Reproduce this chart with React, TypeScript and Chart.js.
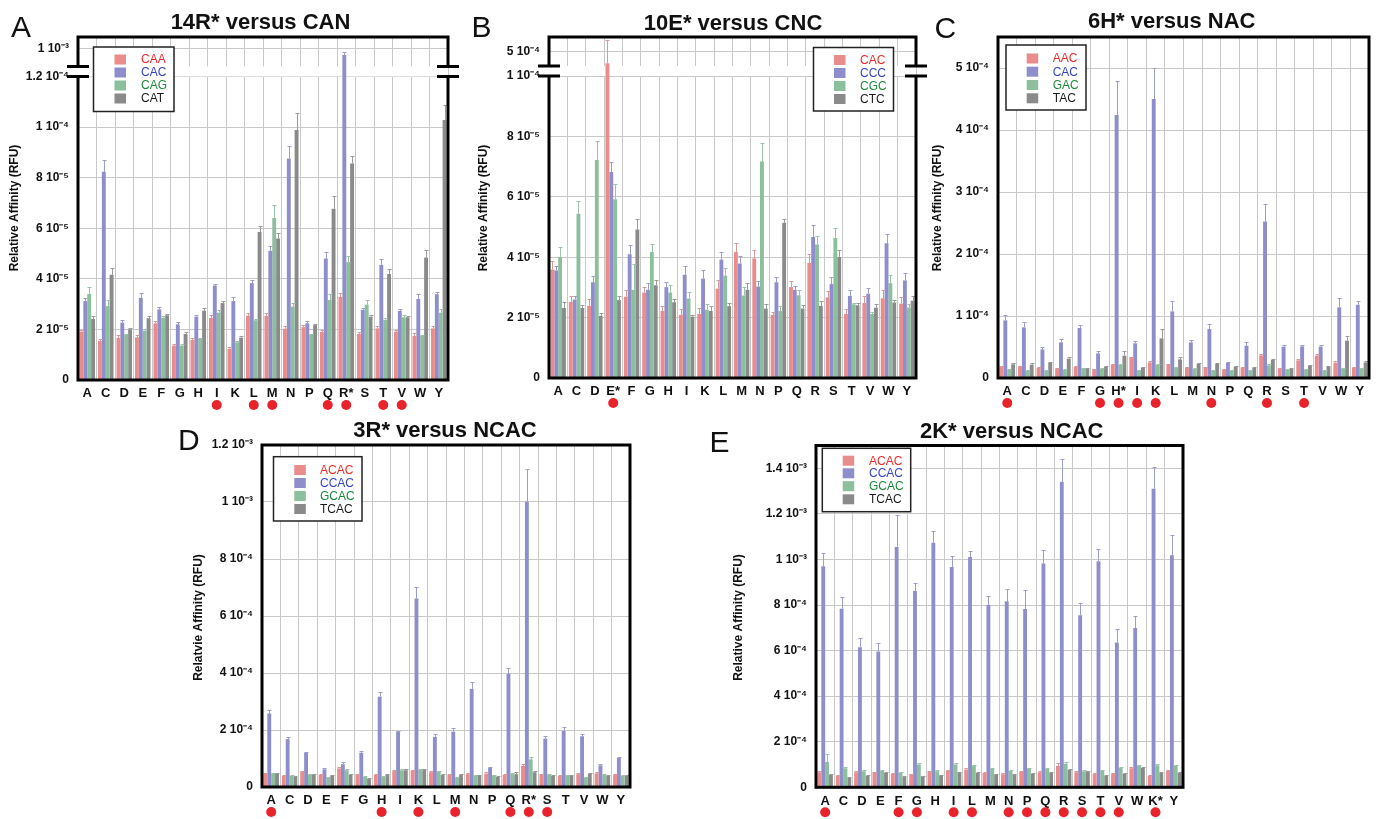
import React, { useEffect, useRef } from 'react';
import { Chart, registerables, LinearScale } from 'chart.js';

Chart.register(...registerables);

// Linear scale with an axis break: values up to breakValue fill the lower breakFrac of the axis,
// values above are compressed into the remaining top part.
class BrokenLinearScale extends LinearScale {
  static id = 'brokenLinear';
  static defaults = {};
  getPixelForValue(value: number) {
    const o: any = this.options;
    const bv = o.breakValue;
    const bf = o.breakFrac;
    if (bv == null || value == null || isNaN(value)) return super.getPixelForValue(value);
    const max = (this as any).max;
    let f: number;
    if (value <= bv) f = (value / bv) * bf;
    else f = bf + ((value - bv) / (max - bv)) * (1 - bf);
    return this.getPixelForDecimal(f);
  }
}
Chart.register(BrokenLinearScale as any);

// ---------------- DATA (all values in units of 1e-5 RFU) ----------------
// Panel A: 14R* versus CAN
const A_labels = ['A', 'C', 'D', 'E', 'F', 'G', 'H', 'I', 'K', 'L', 'M', 'N', 'P', 'Q', 'R*', 'S', 'T', 'V', 'W', 'Y'];
const A_CAA = [1.91, 1.54, 1.67, 1.69, 2.24, 1.36, 1.58, 2.45, 1.23, 2.54, 2.54, 2.03, 2.09, 1.90, 3.28, 1.82, 2.04, 1.91, 1.74, 2.04];
const A_CAC = [3.12, 8.23, 2.27, 3.25, 2.79, 2.20, 2.50, 3.73, 3.12, 3.83, 5.11, 8.76, 2.24, 4.80, 79.0, 2.77, 4.55, 2.73, 3.20, 3.39];
const A_CAG = [3.40, 2.92, 1.78, 1.95, 2.46, 1.36, 1.62, 2.66, 1.49, 2.36, 6.40, 2.90, 1.78, 3.16, 4.66, 2.98, 2.37, 2.48, 1.74, 2.66];
const A_CAT = [2.41, 4.16, 2.00, 2.44, 2.56, 1.82, 2.74, 3.04, 1.67, 5.85, 5.59, 9.88, 2.17, 6.77, 8.56, 2.50, 4.19, 2.48, 4.84, 10.28];
const A_CAA_err = [0.07, 0.10, 0.10, 0.10, 0.10, 0.08, 0.08, 0.12, 0.06, 0.12, 0.12, 0.10, 0.10, 0.06, 0.17, 0.06, 0.10, 0.06, 0.10, 0.10];
const A_CAC_err = [0.13, 0.47, 0.10, 0.20, 0.08, 0.08, 0.06, 0.08, 0.17, 0.12, 0.20, 0.49, 0.08, 0.24, 10.4, 0.06, 0.22, 0.06, 0.20, 0.10];
const A_CAG_err = [0.26, 0.24, 0.05, 0.05, 0.05, 0.05, 0.05, 0.10, 0.05, 0.05, 0.52, 0.13, 0.05, 0.25, 0.24, 0.20, 0.10, 0.08, 0.05, 0.15];
const A_CAT_err = [0.10, 0.25, 0.06, 0.08, 0.06, 0.06, 0.10, 0.07, 0.08, 0.24, 0.24, 0.66, 0.06, 0.50, 0.29, 0.06, 0.18, 0.06, 0.28, 0.59];
const A_marked = ['I', 'L', 'M', 'Q', 'R*', 'T', 'V'];
const A_ticks = [0, 2, 4, 6, 8, 10, 12, 100];
const A_tickLabels = ['0', '2 10⁻⁵', '4 10⁻⁵', '6 10⁻⁵', '8 10⁻⁵', '1 10⁻⁴', '1.2 10⁻⁴', '1 10⁻³'];

// Panel B: 10E* versus CNC
const B_labels = ['A', 'C', 'D', 'E*', 'F', 'G', 'H', 'I', 'K', 'L', 'M', 'N', 'P', 'Q', 'R', 'S', 'T', 'V', 'W', 'Y'];
const B_CAC = [3.59, 2.52, 2.39, 30.9, 2.69, 2.83, 2.22, 2.09, 2.12, 2.96, 4.17, 3.96, 2.09, 3.01, 3.81, 2.67, 2.12, 2.48, 2.64, 2.46];
const B_CCC = [3.56, 2.60, 3.17, 6.82, 4.10, 2.92, 3.01, 3.42, 3.29, 3.92, 3.79, 3.03, 3.17, 2.92, 4.67, 3.11, 2.72, 2.79, 4.46, 3.23];
const B_CGC = [4.01, 5.44, 7.22, 5.92, 2.92, 4.17, 2.83, 2.63, 2.26, 3.39, 2.73, 7.17, 2.22, 2.74, 4.42, 4.64, 2.44, 2.12, 3.14, 2.33];
const B_CTC = [2.32, 2.32, 2.06, 2.58, 4.92, 3.07, 2.51, 2.03, 2.22, 2.38, 2.92, 2.30, 5.14, 2.30, 2.39, 4.01, 2.41, 2.33, 2.50, 2.56];
const B_CAC_err = [0.28, 0.18, 0.22, 38.4, 0.23, 0.18, 0.17, 0.19, 0.20, 0.27, 0.31, 0.27, 0.11, 0.19, 0.30, 0.20, 0.16, 0.22, 0.28, 0.22];
const B_CCC_err = [0.14, 0.10, 0.20, 0.34, 0.32, 0.22, 0.16, 0.30, 0.27, 0.26, 0.24, 0.17, 0.18, 0.11, 0.39, 0.23, 0.20, 0.19, 0.30, 0.24];
const B_CGC_err = [0.33, 0.42, 0.64, 0.50, 0.87, 0.28, 0.26, 0.22, 0.20, 0.24, 0.28, 0.61, 0.17, 0.18, 0.28, 0.33, 0.06, 0.08, 0.27, 0.12];
const B_CTC_err = [0.20, 0.10, 0.09, 0.12, 0.33, 0.16, 0.10, 0.06, 0.17, 0.10, 0.22, 0.14, 0.11, 0.12, 0.17, 0.24, 0.07, 0.12, 0.09, 0.17];
const B_marked = ['E*'];
const B_ticks = [0, 2, 4, 6, 8, 10, 50];
const B_tickLabels = ['0', '2 10⁻⁵', '4 10⁻⁵', '6 10⁻⁵', '8 10⁻⁵', '1 10⁻⁴', '5 10⁻⁴'];

// Panel C: 6H* versus NAC
const C_labels = ['A', 'C', 'D', 'E', 'F', 'G', 'H*', 'I', 'K', 'L', 'M', 'N', 'P', 'Q', 'R', 'S', 'T', 'V', 'W', 'Y'];
const C_AAC = [1.83, 1.83, 1.66, 1.50, 1.77, 1.40, 2.15, 3.22, 2.52, 2.20, 1.72, 1.72, 1.34, 1.72, 3.65, 1.56, 2.85, 3.60, 2.47, 1.66];
const C_CAC = [9.29, 8.16, 4.62, 5.75, 8.06, 3.97, 42.4, 5.59, 45.0, 10.74, 5.75, 7.89, 2.42, 5.21, 25.24, 5.05, 5.10, 5.05, 11.39, 11.82];
const C_GAC = [1.34, 1.18, 1.18, 1.34, 1.56, 1.45, 2.15, 1.18, 2.10, 1.72, 1.45, 1.18, 1.18, 1.18, 2.04, 1.34, 1.34, 1.18, 1.50, 1.56];
const C_TAC = [2.20, 2.15, 2.42, 3.11, 1.56, 1.83, 3.60, 1.66, 6.39, 3.00, 2.31, 2.26, 1.83, 1.61, 2.90, 1.50, 2.04, 1.83, 6.02, 2.52];
const C_AAC_err = [0.10, 0.10, 0.10, 0.10, 0.10, 0.10, 0.10, 0.20, 0.20, 0.10, 0.10, 0.10, 0.10, 0.10, 0.30, 0.10, 0.20, 0.20, 0.20, 0.10];
const C_CAC_err = [0.90, 0.80, 0.43, 0.54, 0.54, 0.43, 5.50, 0.43, 5.00, 1.70, 0.43, 0.86, 0.10, 0.54, 2.80, 0.30, 0.30, 0.30, 1.50, 0.65];
const C_GAC_err = [0.10, 0.08, 0.08, 0.10, 0.10, 0.10, 0.12, 0.08, 0.12, 0.10, 0.10, 0.08, 0.08, 0.08, 0.15, 0.08, 0.08, 0.08, 0.10, 0.10];
const C_TAC_err = [0.20, 0.20, 0.10, 0.20, 0.10, 0.10, 0.80, 0.10, 1.55, 0.38, 0.10, 0.20, 0.10, 0.10, 0.20, 0.10, 0.10, 0.10, 0.80, 0.27];
const C_marked = ['A', 'G', 'H*', 'I', 'K', 'N', 'R', 'T'];
const C_ticks = [0, 10, 20, 30, 40, 50];
const C_tickLabels = ['0', '1 10⁻⁴', '2 10⁻⁴', '3 10⁻⁴', '4 10⁻⁴', '5 10⁻⁴'];

// Panel D: 3R* versus NCAC
const D_labels = ['A', 'C', 'D', 'E', 'F', 'G', 'H', 'I', 'K', 'L', 'M', 'N', 'P', 'Q', 'R*', 'S', 'T', 'V', 'W', 'Y'];
const D_ACAC = [4.7, 3.9, 5.3, 4.3, 6.5, 4.2, 4.2, 5.6, 5.8, 5.2, 4.2, 4.5, 4.7, 4.2, 7.4, 4.3, 3.9, 4.5, 4.8, 4.2];
const D_CCAC = [25.8, 16.8, 12.0, 6.2, 8.0, 12.0, 31.7, 19.4, 66.1, 17.6, 19.4, 34.4, 6.8, 39.7, 100.1, 17.0, 19.7, 17.8, 7.6, 10.2];
const D_GCAC = [4.7, 3.9, 4.3, 3.3, 5.9, 3.5, 3.8, 5.9, 6.0, 5.4, 3.4, 4.1, 4.1, 4.5, 9.7, 4.3, 4.1, 3.3, 4.2, 3.9];
const D_TCAC = [4.7, 3.5, 4.3, 4.1, 4.3, 2.9, 4.2, 5.9, 6.0, 4.2, 4.2, 4.1, 3.5, 4.5, 5.2, 3.9, 3.9, 4.6, 3.9, 3.9];
const D_ACAC_err = [0.3, 0.3, 0.3, 0.3, 0.5, 0.3, 0.3, 0.3, 0.3, 0.3, 0.3, 0.3, 0.5, 0.3, 0.6, 0.3, 0.3, 0.3, 0.3, 0.3];
const D_CCAC_err = [1.2, 0.6, 0.3, 0.3, 0.8, 0.6, 1.8, 0.3, 4.1, 0.9, 1.2, 2.3, 0.3, 2.1, 11.6, 0.8, 1.2, 0.9, 0.3, 0.3];
const D_GCAC_err = [0.3, 0.2, 0.2, 0.2, 0.4, 0.2, 0.2, 0.3, 0.3, 0.3, 0.2, 0.2, 0.2, 0.3, 0.8, 0.2, 0.2, 0.2, 0.2, 0.2];
const D_TCAC_err = [0.3, 0.2, 0.2, 0.2, 0.2, 0.2, 0.3, 0.5, 0.4, 0.2, 0.3, 0.2, 0.2, 0.7, 0.3, 0.2, 0.2, 0.3, 0.2, 0.2];
const D_marked = ['A', 'H', 'K', 'M', 'Q', 'R*', 'S'];
const D_ticks = [0, 20, 40, 60, 80, 100, 120];
const D_tickLabels = ['0', '2 10⁻⁴', '4 10⁻⁴', '6 10⁻⁴', '8 10⁻⁴', '1 10⁻³', '1.2 10⁻³'];

// Panel E: 2K* versus NCAC
const E_labels = ['A', 'C', 'D', 'E', 'F', 'G', 'H', 'I', 'L', 'M', 'N', 'P', 'Q', 'R', 'S', 'T', 'V', 'W', 'K*', 'Y'];
const E_ACAC = [6.6, 5.1, 6.6, 6.4, 6.0, 5.6, 6.7, 7.3, 7.8, 6.3, 5.7, 6.7, 6.6, 9.4, 6.6, 6.0, 6.0, 8.4, 5.0, 7.3];
const E_CCAC = [97.0, 78.4, 61.5, 59.6, 105.5, 86.2, 107.3, 96.7, 101.1, 80.1, 81.6, 78.2, 98.2, 134.1, 75.5, 99.2, 63.6, 69.9, 131.0, 101.8];
const E_GCAC = [11.1, 8.4, 7.0, 7.3, 6.4, 10.0, 7.0, 10.0, 9.5, 8.1, 7.2, 8.2, 8.1, 10.3, 7.0, 7.3, 8.5, 9.5, 9.7, 9.5];
const E_TCAC = [5.4, 4.2, 5.1, 6.3, 4.5, 4.8, 5.3, 6.6, 6.3, 5.7, 5.6, 6.0, 6.3, 7.6, 7.0, 5.0, 5.9, 8.5, 6.3, 6.4];
const E_ACAC_err = [0.7, 0.4, 0.4, 0.4, 0.4, 0.4, 0.4, 0.5, 0.5, 0.4, 0.4, 0.4, 0.4, 1.2, 0.4, 0.4, 0.4, 0.5, 0.4, 0.4];
const E_CCAC_err = [5.9, 5.0, 4.2, 3.7, 13.8, 3.5, 5.1, 4.7, 2.8, 3.7, 5.6, 8.2, 6.0, 9.8, 5.4, 5.4, 6.0, 5.1, 9.5, 8.8];
const E_GCAC_err = [3.4, 0.4, 0.4, 0.4, 0.4, 0.5, 0.4, 0.5, 0.5, 0.4, 0.4, 0.4, 0.4, 0.6, 0.4, 0.4, 0.4, 0.5, 0.6, 0.5];
const E_TCAC_err = [0.4, 0.3, 0.3, 0.3, 0.3, 0.3, 0.3, 0.3, 0.3, 0.3, 0.3, 0.3, 0.3, 0.5, 0.3, 0.3, 0.3, 0.3, 0.3, 0.3];
const E_marked = ['A', 'F', 'G', 'I', 'L', 'N', 'P', 'Q', 'R', 'S', 'T', 'V', 'K*'];
const E_ticks = [0, 20, 40, 60, 80, 100, 120, 140];
const E_tickLabels = ['0', '2 10⁻⁴', '4 10⁻⁴', '6 10⁻⁴', '8 10⁻⁴', '1 10⁻³', '1.2 10⁻³', '1.4 10⁻³'];

// ---------------- STYLE ----------------
const FONT = '"Liberation Sans", Arial, Helvetica, sans-serif';
const FILL = ['#e98c8b', '#8d8ecb', '#8cbf9b', '#8a8a8a'];
const TEXTC = ['#ec2b2b', '#3545c8', '#1e8a3c', '#1a1a1a'];
const ERRC = ['#d79a9a', '#9d9dc9', '#9cc2a8', '#9a9a9a'];
const GRID = '#c8c8c8';
const DOT = '#e8232b';
const BREAK_GAP = 10;

type Series = { name: string; data: number[]; err: number[] };
type PanelDef = {
  id: string; x: number; y: number; w: number; h: number;
  area: { l: number; t: number; r: number; b: number };
  letter: string; letterX: number; letterY: number;
  title: string; titleX: number; titleY: number;
  yTitle: string; yTitleX: number; yTitleY: number;
  labels: string[]; series: Series[];
  ticks: number[]; tickLabels: string[]; max: number;
  breakValue?: number; breakFrac?: number;
  legend: { x: number; y: number; w: number; h: number; sqX: number; txtX: number; rows: number[] };
  marked: string[];
};

const panels: PanelDef[] = [
  {
    id: 'A', x: 0, y: 0, w: 460, h: 415, area: { l: 78, t: 37, r: 448, b: 380 },
    letter: 'A', letterX: 11, letterY: 36.5, title: '14R* versus CAN', titleX: 260.5, titleY: 28.5,
    yTitle: 'Relative Affinity (RFU)', yTitleX: 15, yTitleY: 208,
    labels: A_labels,
    series: [
      { name: 'CAA', data: A_CAA, err: A_CAA_err },
      { name: 'CAC', data: A_CAC, err: A_CAC_err },
      { name: 'CAG', data: A_CAG, err: A_CAG_err },
      { name: 'CAT', data: A_CAT, err: A_CAT_err },
    ],
    ticks: A_ticks, tickLabels: A_tickLabels, max: 135.5, breakValue: 12, breakFrac: 0.8851,
    legend: { x: 93.5, y: 47, w: 80.5, h: 64.5, sqX: 114.5, txtX: 141, rows: [59.5, 72.5, 85.5, 98.5] },
    marked: A_marked,
  },
  {
    id: 'B', x: 460, y: 0, w: 480, h: 415, area: { l: 89, t: 37, r: 456, b: 378 },
    letter: 'B', letterX: 11.5, letterY: 36.5, title: '10E* versus CNC', titleX: 273, titleY: 30,
    yTitle: 'Relative Affinity (RFU)', yTitleX: 23.3, yTitleY: 208,
    labels: B_labels,
    series: [
      { name: 'CAC', data: B_CAC, err: B_CAC_err },
      { name: 'CCC', data: B_CCC, err: B_CCC_err },
      { name: 'CGC', data: B_CGC, err: B_CGC_err },
      { name: 'CTC', data: B_CTC, err: B_CTC_err },
    ],
    ticks: B_ticks, tickLabels: B_tickLabels, max: 74.2, breakValue: 10, breakFrac: 0.8856,
    legend: { x: 353.5, y: 47.5, w: 80, h: 63.5, sqX: 374, txtX: 400, rows: [60, 73, 86, 99] },
    marked: B_marked,
  },
  {
    id: 'C', x: 920, y: 0, w: 458, h: 415, area: { l: 78, t: 37, r: 449, b: 378 },
    letter: 'C', letterX: 14.5, letterY: 37.5, title: '6H* versus NAC', titleX: 251.7, titleY: 27.5,
    yTitle: 'Relative Affinity (RFU)', yTitleX: 17.3, yTitleY: 208,
    labels: C_labels,
    series: [
      { name: 'AAC', data: C_AAC, err: C_AAC_err },
      { name: 'CAC', data: C_CAC, err: C_CAC_err },
      { name: 'GAC', data: C_GAC, err: C_GAC_err },
      { name: 'TAC', data: C_TAC, err: C_TAC_err },
    ],
    ticks: C_ticks, tickLabels: C_tickLabels, max: 55,
    legend: { x: 86, y: 45, w: 80, h: 65, sqX: 106.7, txtX: 132.7, rows: [58.5, 71.7, 85, 98.3] },
    marked: C_marked,
  },
  {
    id: 'D', x: 180, y: 410, w: 500, h: 409, area: { l: 82, t: 35, r: 450, b: 377 },
    letter: 'D', letterX: -2, letterY: 40, title: '3R* versus NCAC', titleX: 265, titleY: 26.7,
    yTitle: 'Relatvie Affinity (RFU)', yTitleX: 18.3, yTitleY: 207.5,
    labels: D_labels,
    series: [
      { name: 'ACAC', data: D_ACAC, err: D_ACAC_err },
      { name: 'CCAC', data: D_CCAC, err: D_CCAC_err },
      { name: 'GCAC', data: D_GCAC, err: D_GCAC_err },
      { name: 'TCAC', data: D_TCAC, err: D_TCAC_err },
    ],
    ticks: D_ticks, tickLabels: D_tickLabels, max: 120,
    legend: { x: 93.5, y: 46.7, w: 88.5, h: 64.3, sqX: 114.3, txtX: 140, rows: [60, 73, 86, 99] },
    marked: D_marked,
  },
  {
    id: 'E', x: 690, y: 410, w: 520, h: 409, area: { l: 126, t: 35.5, r: 493, b: 377.3 },
    letter: 'E', letterX: 19.5, letterY: 41.7, title: '2K* versus NCAC', titleX: 321.7, titleY: 28.3,
    yTitle: 'Relative Affinity (RFU)', yTitleX: 49, yTitleY: 207.5,
    labels: E_labels,
    series: [
      { name: 'ACAC', data: E_ACAC, err: E_ACAC_err },
      { name: 'CCAC', data: E_CCAC, err: E_CCAC_err },
      { name: 'GCAC', data: E_GCAC, err: E_GCAC_err },
      { name: 'TCAC', data: E_TCAC, err: E_TCAC_err },
    ],
    ticks: E_ticks, tickLabels: E_tickLabels, max: 150,
    legend: { x: 132.3, y: 38.3, w: 88.4, h: 63.4, sqX: 152.7, txtX: 179, rows: [50.7, 63.3, 76.2, 89.3] },
    marked: E_marked,
  },
];

function makeDecor(p: PanelDef) {
  return {
    id: 'decor' + p.id,
    beforeDatasetsDraw(chart: any) {
      if (p.breakValue == null) return;
      const { ctx, chartArea: a } = chart;
      const yb = chart.scales.y.getPixelForValue(p.breakValue);
      ctx.save();
      ctx.fillStyle = '#ffffff';
      ctx.fillRect(a.left, yb - BREAK_GAP, a.right - a.left, BREAK_GAP);
      ctx.restore();
    },
    afterDatasetsDraw(chart: any) {
      const { ctx } = chart;
      const ys = chart.scales.y;
      ctx.save();
      ctx.lineWidth = 1;
      p.series.forEach((s, i) => {
        const meta = chart.getDatasetMeta(i);
        ctx.strokeStyle = ERRC[i];
        meta.data.forEach((el: any, j: number) => {
          const e = s.err[j];
          if (!e) return;
          const yTop = Math.round(ys.getPixelForValue(s.data[j] + e)) + 0.5;
          const x = Math.round(el.x) + 0.5;
          ctx.beginPath();
          ctx.moveTo(x, el.y);
          ctx.lineTo(x, yTop);
          ctx.moveTo(x - 2, yTop);
          ctx.lineTo(x + 2, yTop);
          ctx.stroke();
        });
      });
      ctx.restore();
    },
    afterDraw(chart: any) {
      const { ctx, chartArea: a } = chart;
      const ys = chart.scales.y;
      const xs = chart.scales.x;
      ctx.save();
      // frame
      ctx.strokeStyle = '#000';
      ctx.lineWidth = 3;
      ctx.lineJoin = 'miter';
      if (p.breakValue != null) {
        const y1 = ys.getPixelForValue(p.breakValue);
        const y0 = y1 - BREAK_GAP;
        ctx.beginPath();
        ctx.moveTo(a.left, y0); ctx.lineTo(a.left, a.top); ctx.lineTo(a.right, a.top); ctx.lineTo(a.right, y0);
        ctx.moveTo(a.left, y1); ctx.lineTo(a.left, a.bottom); ctx.lineTo(a.right, a.bottom); ctx.lineTo(a.right, y1);
        ctx.stroke();
        ctx.beginPath();
        for (const x of [a.left, a.right]) {
          for (const y of [y0, y1]) {
            ctx.moveTo(x - 11, y);
            ctx.lineTo(x + 11, y);
          }
        }
        ctx.stroke();
      } else {
        ctx.strokeRect(a.left, a.top, a.right - a.left, a.bottom - a.top);
      }
      // legend
      const L = p.legend;
      ctx.fillStyle = '#fff';
      ctx.fillRect(L.x, L.y, L.w, L.h);
      ctx.lineWidth = 1.5;
      ctx.strokeStyle = '#222';
      ctx.strokeRect(L.x, L.y, L.w, L.h);
      ctx.font = '12px ' + FONT;
      ctx.textAlign = 'left';
      ctx.textBaseline = 'middle';
      p.series.forEach((s, i) => {
        const cy = L.rows[i];
        ctx.fillStyle = FILL[i];
        ctx.fillRect(L.sqX, cy - 5, 11.5, 10);
        ctx.fillStyle = TEXTC[i];
        ctx.fillText(s.name, L.txtX, cy + 0.5);
      });
      // red dots under marked residues
      ctx.fillStyle = DOT;
      p.marked.forEach((lbl) => {
        const idx = p.labels.indexOf(lbl);
        if (idx < 0) return;
        const x = xs.getPixelForValue(idx);
        ctx.beginPath();
        ctx.arc(x, a.bottom + 25, 5, 0, Math.PI * 2);
        ctx.fill();
      });
      // title
      ctx.fillStyle = '#111';
      ctx.font = 'bold 22px ' + FONT;
      ctx.textAlign = 'center';
      ctx.textBaseline = 'alphabetic';
      ctx.fillText(p.title, p.titleX, p.titleY);
      // panel letter
      ctx.font = '30px ' + FONT;
      ctx.textAlign = 'left';
      ctx.fillText(p.letter, p.letterX, p.letterY);
      // y axis title
      ctx.translate(p.yTitleX, p.yTitleY);
      ctx.rotate(-Math.PI / 2);
      ctx.font = 'bold 12px ' + FONT;
      ctx.textAlign = 'center';
      ctx.textBaseline = 'middle';
      ctx.fillText(p.yTitle, 0, 0);
      ctx.restore();
    },
  };
}

function Panel({ p }: { p: PanelDef }) {
  const ref = useRef<HTMLCanvasElement>(null);
  useEffect(() => {
    const canvas = ref.current!;
    const chart = new Chart(canvas, {
      type: 'bar',
      data: {
        labels: p.labels,
        datasets: p.series.map((s, i) => ({
          label: s.name,
          data: s.data,
          backgroundColor: FILL[i],
          borderWidth: 0,
          categoryPercentage: 0.84,
          barPercentage: 1.0,
        })),
      },
      options: {
        responsive: false,
        maintainAspectRatio: false,
        animation: false,
        events: [],
        layout: { padding: { left: 0, top: p.area.t, right: p.w - p.area.r, bottom: 0 } },
        plugins: { legend: { display: false }, title: { display: false }, tooltip: { enabled: false } },
        scales: {
          x: {
            type: 'category',
            offset: true,
            grid: { offset: true, color: GRID, lineWidth: 1, drawTicks: false },
            border: { display: false },
            ticks: {
              color: '#111',
              font: { family: FONT, size: 13, weight: 'bold' },
              padding: 6,
              autoSkip: false,
              maxRotation: 0,
              minRotation: 0,
            },
            afterFit: (s: any) => { s.height = p.h - p.area.b; },
          },
          y: {
            type: p.breakValue != null ? 'brokenLinear' : 'linear',
            min: 0,
            max: p.max,
            breakValue: p.breakValue,
            breakFrac: p.breakFrac,
            grid: { color: GRID, lineWidth: 1, drawTicks: false },
            border: { display: false },
            ticks: {
              color: '#111',
              font: { family: FONT, size: 12, weight: 'bold' },
              padding: 9,
              autoSkip: false,
              callback: (_v: any, i: number) => p.tickLabels[i],
            },
            afterBuildTicks: (s: any) => { s.ticks = p.ticks.map((v) => ({ value: v })); },
            afterFit: (s: any) => { s.width = p.area.l; },
          } as any,
        },
      } as any,
      plugins: [makeDecor(p)],
    });
    return () => chart.destroy();
  }, []);
  return (
    <canvas
      ref={ref}
      width={p.w}
      height={p.h}
      style={{ position: 'absolute', left: p.x, top: p.y, width: p.w, height: p.h }}
    />
  );
}

export default function App() {
  return (
    <div style={{ position: 'absolute', left: 0, top: 0, width: 1378, height: 819, background: '#fff', overflow: 'hidden' }}>
      {panels.map((p) => (
        <Panel key={p.id} p={p} />
      ))}
    </div>
  );
}
